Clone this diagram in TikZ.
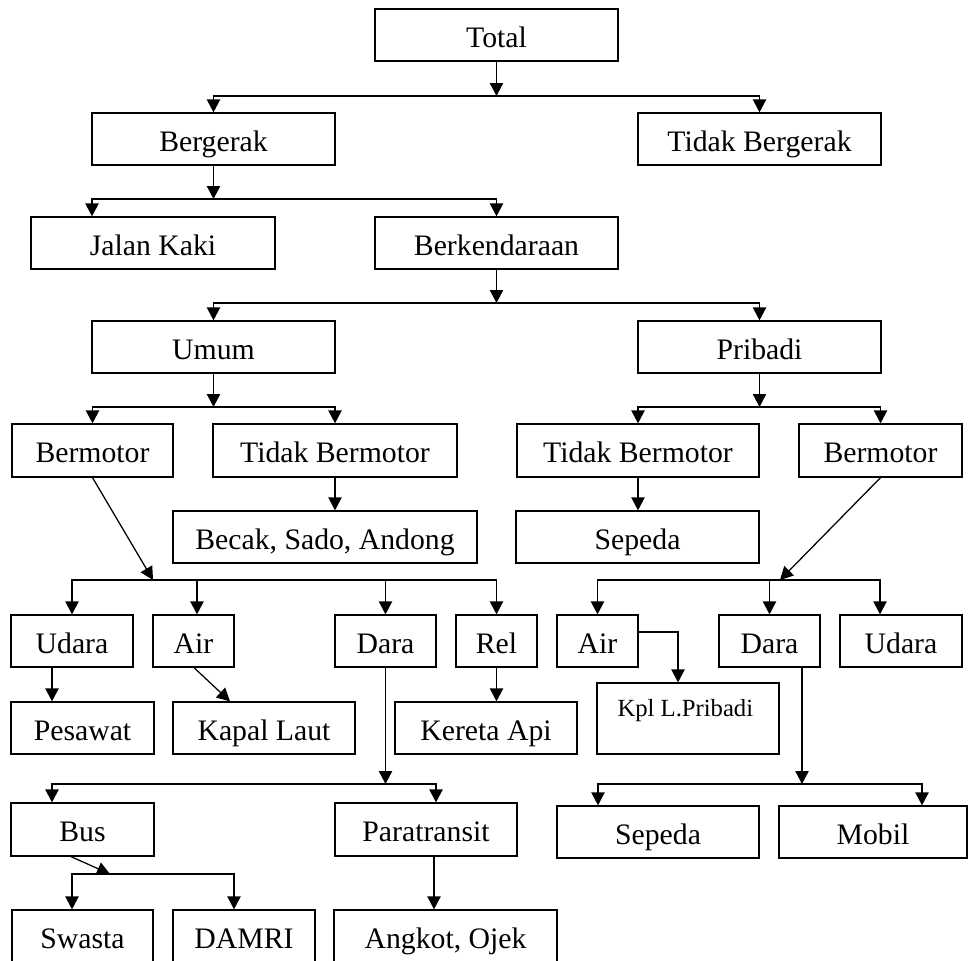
\documentclass[tikz,border=0pt]{standalone}
\usepackage{fontspec}
\setmainfont{Liberation Serif}
\usetikzlibrary{arrows.meta}
\tikzset{
  box/.style={draw, line width=0.95pt, inner sep=0pt, text height=20pt, text depth=2pt, font=\fontsize{22.3}{26}\selectfont},
  arr/.style={-{Triangle[length=9.75pt,width=10pt]}, line width=0.95pt},
}
\newcommand{\bx}[6]{\node[box, minimum width={(#4-#2)*0.75pt}, minimum height={(#5-#3)*0.75pt}] (#1) at ({(#2+#4)/2},{(#3+#5)/2}) {#6};}
\begin{document}
\begin{tikzpicture}[x=0.75pt,y=-0.75pt]
\useasboundingbox (0,0) rectangle (969,960);
% boxes
\bx{total}{375}{9}{618}{61}{Total}
\bx{berg}{92}{113}{335}{165}{Bergerak}
\bx{tberg}{638}{113}{881}{165}{Tidak Bergerak}
\bx{jk}{31}{217}{275}{269}{Jalan Kaki}
\bx{bk}{375}{217}{618}{269}{Berkendaraan}
\bx{umum}{92}{321}{335}{373}{Umum}
\bx{prib}{638}{321}{881}{373}{Pribadi}
\bx{bmA}{12}{424}{173}{477}{Bermotor}
\bx{tbmA}{213}{424}{457}{477}{Tidak Bermotor}
\bx{tbmB}{517}{424}{759}{477}{Tidak Bermotor}
\bx{bmB}{799}{424}{962}{477}{Bermotor}
\bx{becak}{173}{511}{477}{563}{Becak, Sado, Andong}
\bx{sepA}{516}{511}{759}{563}{Sepeda}
\bx{udaraA}{11}{615}{133}{667}{Udara}
\bx{airA}{153}{615}{234}{667}{Air}
\bx{daraA}{335}{615}{436}{667}{Dara}
\bx{rel}{456}{615}{537}{667}{Rel}
\bx{airB}{557}{615}{638}{667}{Air}
\bx{daraB}{719}{615}{820}{667}{Dara}
\bx{udaraB}{840}{615}{962}{667}{Udara}
\bx{pesawat}{11}{702}{154}{754}{Pesawat}
\bx{kapal}{173}{702}{355}{754}{Kapal Laut}
\bx{kereta}{395}{702}{577}{754}{Kereta Api}
\node[box, minimum width={182*0.75pt}, minimum height={71*0.75pt},
  label={[font=\fontsize{18.5}{22}\selectfont, text height=14pt, text depth=4pt, yshift=6.4pt, xshift=-2pt]center:Kpl L.Pribadi}] (kpl) at (688,718.5) {};
\bx{bus}{11}{803}{154}{856}{Bus}
\bx{para}{335}{803}{517}{856}{Paratransit}
\bx{sepB}{557}{806}{759}{858}{Sepeda}
\bx{mobil}{779}{806}{967}{858}{Mobil}
\bx{swasta}{12}{910}{153}{962}{Swasta}
\bx{damri}{173}{910}{315}{962}{DAMRI}
\bx{angkot}{334}{910}{557}{962}{Angkot, Ojek}
% helper x positions
\coordinate (c52) at (52,0);
\coordinate (c71) at (71,0);
\coordinate (c72) at (72,0);
\coordinate (c92) at (92,0);
\coordinate (c194) at (194,0);
\coordinate (c197) at (197,0);
\coordinate (c230) at (230,0);
\coordinate (c234) at (234,0);
\coordinate (c434) at (434,0);
\coordinate (c436) at (436,0);
\coordinate (c598) at (598,0);
\coordinate (c678) at (678,0);
\coordinate (c802) at (802,0);
\coordinate (c880) at (880,0);
\coordinate (c922) at (922,0);
\coordinate (r632) at (0,632);
% junctions
\coordinate (j1) at (496.5,96);
\coordinate (j2) at (213.5,199);
\coordinate (j3) at (496.5,303);
\coordinate (j4a) at (213.5,407);
\coordinate (j4b) at (759.5,407);
\coordinate (j5) at (153,580);
\coordinate (j6) at (780,580);
\coordinate (j7) at (385.5,784);
\coordinate (j8) at (802,784);
\coordinate (j9) at (110,874);
% connectors
\draw[arr] (total.south) -- (j1);
\draw[arr] (j1) -| (berg.north);
\draw[arr] (j1) -| (tberg.north);
\draw[arr] (berg.south) -- (j2);
\draw[arr] (j2) -| (jk.north -| c92);
\draw[arr] (j2) -| (bk.north);
\draw[arr] (bk.south) -- (j3);
\draw[arr] (j3) -| (umum.north);
\draw[arr] (j3) -| (prib.north);
\draw[arr] (umum.south) -- (j4a);
\draw[arr] (j4a) -| (bmA.north);
\draw[arr] (j4a) -| (tbmA.north);
\draw[arr] (prib.south) -- (j4b);
\draw[arr] (j4b) -| (tbmB.north);
\draw[arr] (j4b) -| (bmB.north);
\draw[arr] (tbmA.south) -- (tbmA.south |- becak.north);
\draw[arr] (tbmB.south) -- (tbmB.south |- sepA.north);
\draw[arr] (bmA.south) -- (j5);
\draw[arr] (j5) -| (udaraA.north);
\draw[arr] (j5) -| (airA.north -| c197);
\draw[arr] (j5) -| (daraA.north);
\draw[arr] (j5) -| (rel.north);
\draw[arr] (bmB.south) -- (j6);
\draw[arr] (j6) -| (airB.north);
\draw[arr] (j6) -| (daraB.north);
\draw[arr] (j6) -| (udaraB.north -| c880);
\draw[arr] (udaraA.south -| c52) -- (pesawat.north -| c52);
\draw[arr] (airA.south -| c194) -- (kapal.north -| c230);
\draw[arr] (rel.south) -- (rel.south |- kereta.north);
\draw[arr] (airB.east |- r632) -| (kpl.north -| c678);
\draw[arr] (daraA.south) -- (j7);
\draw[arr] (j7) -| (bus.north -| c52);
\draw[arr] (j7) -| (para.north -| c436);
\draw[arr] (daraB.south -| c802) -- (j8);
\draw[arr] (j8) -| (sepB.north -| c598);
\draw[arr] (j8) -| (mobil.north -| c922);
\draw[arr] (bus.south -| c71) -- (j9);
\draw[arr] (j9) -| (swasta.north -| c72);
\draw[arr] (j9) -| (damri.north -| c234);
\draw[arr] (para.south -| c434) -- (angkot.north -| c434);
\end{tikzpicture}
\end{document}
